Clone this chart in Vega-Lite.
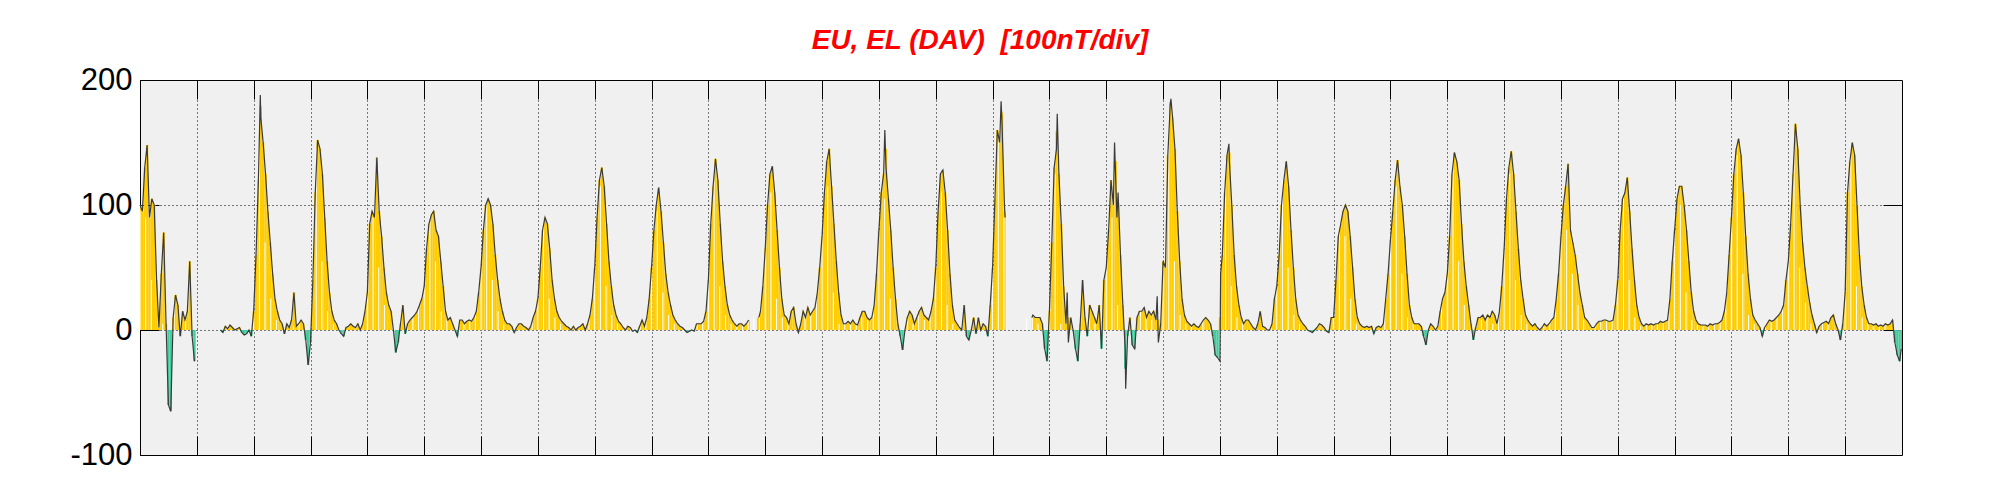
{
"$schema": "https://vega.github.io/schema/vega-lite/v6.json",
"width": 1762, "height": 375,
"autosize": {"type": "none"},
"padding": {"left": 140, "top": 80, "right": 99, "bottom": 45},
"background": "white",
"title": {"text": "EU, EL (DAV) \u00a0[100nT/div]", "font": "Liberation Sans", "fontSize": 28, "fontStyle": "italic", "fontWeight": "bold", "color": "#ff0000", "anchor": "middle", "frame": "group", "baseline": "alphabetic", "offset": 27, "dx": -41, "dy": 40},
"config": {"view": {"stroke": "#000000", "strokeWidth": 1, "fill": "#f0f0f0"}},
"data": {"values": [
{"h":0,"v":100},{"h":1,"v":95},{"h":2,"v":130},{"h":3,"v":148},{"h":4,"v":90},{"h":5,"v":105},{"h":6,"v":100},{"h":7,"v":40},{"h":8,"v":2},{"h":9,"v":45},{"h":10,"v":78},{"h":11,"v":5},{"h":12,"v":-60},{"h":13,"v":-65},{"h":14,"v":10},{"h":15,"v":28},{"h":16,"v":20},{"h":17,"v":-5},{"h":18,"v":15},{"h":19,"v":8},{"h":20,"v":15},{"h":21,"v":55},{"h":22,"v":-5},{"h":23,"v":-25},{"h":23.5,"v":null},
{"h":34,"v":0},{"h":35,"v":-2},{"h":36,"v":3},{"h":37,"v":1},{"h":38,"v":4},{"h":39,"v":2},{"h":40,"v":0},{"h":41,"v":1},{"h":42,"v":2},{"h":43,"v":-2},{"h":44,"v":-4},{"h":45,"v":-3},{"h":46,"v":0},{"h":47,"v":-5},
{"h":48,"v":15},{"h":49,"v":60},{"h":50,"v":120},{"h":50.8,"v":188},{"h":51,"v":170},{"h":52,"v":150},{"h":53,"v":125},{"h":54,"v":95},{"h":55,"v":70},{"h":56,"v":45},{"h":57,"v":25},{"h":58,"v":15},{"h":59,"v":8},{"h":60,"v":5},{"h":61,"v":-3},{"h":62,"v":5},{"h":63,"v":2},{"h":64,"v":8},{"h":65,"v":30},{"h":66,"v":3},{"h":67,"v":5},{"h":68,"v":8},{"h":69,"v":5},{"h":70,"v":-8},{"h":71,"v":-28},
{"h":72,"v":-10},{"h":73,"v":40},{"h":74,"v":110},{"h":75,"v":152},{"h":76,"v":145},{"h":77,"v":125},{"h":78,"v":90},{"h":79,"v":55},{"h":80,"v":30},{"h":81,"v":15},{"h":82,"v":8},{"h":83,"v":5},{"h":84,"v":0},{"h":85,"v":-3},{"h":86,"v":-5},{"h":87,"v":2},{"h":88,"v":3},{"h":89,"v":5},{"h":90,"v":3},{"h":91,"v":2},{"h":92,"v":5},{"h":93,"v":0},{"h":94,"v":5},{"h":95,"v":15},
{"h":96,"v":30},{"h":97,"v":85},{"h":98,"v":95},{"h":99,"v":90},{"h":100,"v":138},{"h":101,"v":95},{"h":102,"v":75},{"h":103,"v":50},{"h":104,"v":30},{"h":105,"v":20},{"h":106,"v":15},{"h":107,"v":0},{"h":108,"v":-18},{"h":109,"v":-10},{"h":110,"v":5},{"h":111,"v":20},{"h":112,"v":-3},{"h":113,"v":5},{"h":114,"v":8},{"h":115,"v":10},{"h":116,"v":12},{"h":117,"v":15},{"h":118,"v":20},{"h":119,"v":25},
{"h":120,"v":35},{"h":121,"v":65},{"h":122,"v":85},{"h":123,"v":92},{"h":124,"v":95},{"h":125,"v":80},{"h":126,"v":75},{"h":127,"v":55},{"h":128,"v":35},{"h":129,"v":15},{"h":130,"v":8},{"h":131,"v":10},{"h":132,"v":5},{"h":133,"v":0},{"h":134,"v":-5},{"h":135,"v":8},{"h":136,"v":8},{"h":137,"v":5},{"h":138,"v":7},{"h":139,"v":8},{"h":140,"v":7},{"h":141,"v":10},{"h":142,"v":15},{"h":143,"v":30},
{"h":144,"v":50},{"h":145,"v":80},{"h":146,"v":100},{"h":147,"v":105},{"h":148,"v":100},{"h":149,"v":85},{"h":150,"v":60},{"h":151,"v":40},{"h":152,"v":25},{"h":153,"v":15},{"h":154,"v":8},{"h":155,"v":5},{"h":156,"v":5},{"h":157,"v":3},{"h":158,"v":-2},{"h":159,"v":2},{"h":160,"v":5},{"h":161,"v":5},{"h":162,"v":3},{"h":163,"v":2},{"h":164,"v":0},{"h":165,"v":3},{"h":166,"v":10},{"h":167,"v":15},
{"h":168,"v":25},{"h":169,"v":50},{"h":170,"v":80},{"h":171,"v":90},{"h":172,"v":85},{"h":173,"v":65},{"h":174,"v":40},{"h":175,"v":25},{"h":176,"v":15},{"h":177,"v":10},{"h":178,"v":7},{"h":179,"v":5},{"h":180,"v":3},{"h":181,"v":2},{"h":182,"v":0},{"h":183,"v":3},{"h":184,"v":0},{"h":185,"v":2},{"h":186,"v":3},{"h":187,"v":5},{"h":188,"v":0},{"h":189,"v":5},{"h":190,"v":12},{"h":191,"v":25},
{"h":192,"v":50},{"h":193,"v":90},{"h":194,"v":120},{"h":195,"v":130},{"h":196,"v":115},{"h":197,"v":85},{"h":198,"v":55},{"h":199,"v":35},{"h":200,"v":20},{"h":201,"v":12},{"h":202,"v":7},{"h":203,"v":5},{"h":204,"v":2},{"h":205,"v":0},{"h":206,"v":3},{"h":207,"v":2},{"h":208,"v":-1},{"h":209,"v":0},{"h":210,"v":-2},{"h":211,"v":3},{"h":212,"v":8},{"h":213,"v":3},{"h":214,"v":10},{"h":215,"v":25},
{"h":216,"v":50},{"h":217,"v":80},{"h":218,"v":100},{"h":219,"v":114},{"h":220,"v":95},{"h":221,"v":70},{"h":222,"v":45},{"h":223,"v":30},{"h":224,"v":20},{"h":225,"v":12},{"h":226,"v":8},{"h":227,"v":5},{"h":228,"v":3},{"h":229,"v":2},{"h":230,"v":0},{"h":231,"v":-2},{"h":232,"v":-1},{"h":233,"v":0},{"h":234,"v":-1},{"h":235,"v":5},{"h":236,"v":5},{"h":237,"v":5},{"h":238,"v":7},{"h":239,"v":15},
{"h":240,"v":40},{"h":241,"v":85},{"h":242,"v":115},{"h":243,"v":137},{"h":244,"v":120},{"h":245,"v":85},{"h":246,"v":55},{"h":247,"v":35},{"h":248,"v":20},{"h":249,"v":12},{"h":250,"v":8},{"h":251,"v":5},{"h":252,"v":3},{"h":253,"v":5},{"h":254,"v":5},{"h":255,"v":3},{"h":256,"v":5},{"h":257,"v":8},{"h":257.6,"v":null},
{"h":261.3,"v":10},{"h":262,"v":15},{"h":263,"v":35},
{"h":264,"v":65},{"h":265,"v":100},{"h":266,"v":125},{"h":267,"v":131},{"h":268,"v":110},{"h":269,"v":80},{"h":270,"v":50},{"h":271,"v":25},{"h":272,"v":12},{"h":273,"v":10},{"h":274,"v":5},{"h":275,"v":15},{"h":276,"v":18},{"h":277,"v":5},{"h":278,"v":-2},{"h":279,"v":5},{"h":280,"v":15},{"h":281,"v":10},{"h":282,"v":18},{"h":283,"v":12},{"h":284,"v":15},{"h":285,"v":18},{"h":286,"v":30},{"h":287,"v":50},
{"h":288,"v":75},{"h":289,"v":110},{"h":290,"v":135},{"h":291,"v":145},{"h":292,"v":115},{"h":293,"v":85},{"h":294,"v":55},{"h":295,"v":30},{"h":296,"v":12},{"h":297,"v":5},{"h":298,"v":5},{"h":299,"v":7},{"h":300,"v":5},{"h":301,"v":8},{"h":302,"v":5},{"h":303,"v":4},{"h":304,"v":10},{"h":305,"v":15},{"h":306,"v":15},{"h":307,"v":10},{"h":308,"v":8},{"h":309,"v":10},{"h":310,"v":20},{"h":311,"v":45},
{"h":312,"v":80},{"h":313,"v":110},{"h":314,"v":125},{"h":314.5,"v":160},{"h":315,"v":130},{"h":316,"v":105},{"h":317,"v":80},{"h":318,"v":50},{"h":319,"v":25},{"h":320,"v":5},{"h":321,"v":-5},{"h":322,"v":-16},{"h":323,"v":0},{"h":324,"v":10},{"h":325,"v":15},{"h":326,"v":12},{"h":327,"v":5},{"h":328,"v":10},{"h":329,"v":15},{"h":330,"v":18},{"h":331,"v":12},{"h":332,"v":10},{"h":333,"v":8},{"h":334,"v":15},{"h":335,"v":25},
{"h":336,"v":50},{"h":337,"v":95},{"h":338,"v":125},{"h":339,"v":128},{"h":340,"v":110},{"h":341,"v":80},{"h":342,"v":45},{"h":343,"v":20},{"h":344,"v":8},{"h":345,"v":5},{"h":346,"v":2},{"h":347,"v":0},{"h":348,"v":20},{"h":349,"v":-5},{"h":350,"v":-8},{"h":351,"v":0},{"h":352,"v":10},{"h":353,"v":-3},{"h":354,"v":10},{"h":355,"v":0},{"h":356,"v":5},{"h":357,"v":3},{"h":358,"v":-5},{"h":359,"v":20},
{"h":360,"v":50},{"h":361,"v":105},{"h":362,"v":160},{"h":363,"v":150},{"h":363.6,"v":183},{"h":364,"v":165},{"h":365,"v":100},{"h":365.3,"v":90},{"h":365.6,"v":null},
{"h":376.6,"v":10},{"h":377,"v":12},{"h":378,"v":10},{"h":379,"v":10},{"h":380,"v":10},{"h":381,"v":5},{"h":382,"v":-15},{"h":383,"v":-25},
{"h":384,"v":15},{"h":385,"v":70},{"h":386,"v":130},{"h":387,"v":145},{"h":387.3,"v":173},{"h":388,"v":125},{"h":389,"v":85},{"h":390,"v":35},{"h":391,"v":5},{"h":391.5,"v":30},{"h":392,"v":-10},{"h":393,"v":10},{"h":394,"v":0},{"h":395,"v":-15},{"h":396,"v":-25},{"h":397,"v":5},{"h":398,"v":40},{"h":399,"v":10},{"h":400,"v":-5},{"h":401,"v":20},{"h":402,"v":15},{"h":403,"v":10},{"h":404,"v":5},{"h":405,"v":20},{"h":406,"v":-15},{"h":407,"v":40},
{"h":408,"v":50},{"h":409,"v":80},{"h":410,"v":120},{"h":411,"v":100},{"h":411.5,"v":150},{"h":412,"v":120},{"h":412.5,"v":90},{"h":413,"v":110},{"h":414,"v":60},{"h":415,"v":20},{"h":416,"v":-15},{"h":416.2,"v":-47},{"h":417,"v":-5},{"h":418,"v":10},{"h":419,"v":-12},{"h":420,"v":-15},{"h":421,"v":10},{"h":422,"v":15},{"h":423,"v":15},{"h":424,"v":18},{"h":425,"v":10},{"h":426,"v":15},{"h":427,"v":12},{"h":428,"v":15},{"h":429,"v":8},{"h":429.5,"v":27},{"h":430,"v":-10},{"h":431,"v":5},
{"h":432,"v":55},{"h":433,"v":50},{"h":434,"v":140},{"h":435,"v":180},{"h":435.3,"v":185},{"h":436,"v":170},{"h":437,"v":145},{"h":438,"v":95},{"h":439,"v":55},{"h":440,"v":25},{"h":441,"v":12},{"h":442,"v":7},{"h":443,"v":5},{"h":444,"v":3},{"h":445,"v":5},{"h":446,"v":3},{"h":447,"v":2},{"h":448,"v":5},{"h":449,"v":8},{"h":450,"v":10},{"h":451,"v":8},{"h":452,"v":5},{"h":453,"v":-5},{"h":454,"v":-20},{"h":455,"v":-22},
{"h":456,"v":-25},{"h":456.3,"v":45},{"h":457,"v":60},{"h":458,"v":110},{"h":459,"v":140},{"h":459.8,"v":149},{"h":460,"v":135},{"h":461,"v":100},{"h":462,"v":60},{"h":463,"v":35},{"h":464,"v":20},{"h":465,"v":10},{"h":466,"v":5},{"h":467,"v":8},{"h":468,"v":8},{"h":469,"v":5},{"h":470,"v":2},{"h":471,"v":0},{"h":472,"v":5},{"h":473,"v":15},{"h":474,"v":3},{"h":475,"v":2},{"h":476,"v":0},{"h":477,"v":0},{"h":478,"v":5},{"h":479,"v":25},
{"h":480,"v":35},{"h":481,"v":60},{"h":482,"v":100},{"h":483,"v":120},{"h":484,"v":135},{"h":485,"v":115},{"h":486,"v":80},{"h":487,"v":50},{"h":488,"v":25},{"h":489,"v":12},{"h":490,"v":8},{"h":491,"v":5},{"h":492,"v":3},{"h":493,"v":0},{"h":494,"v":-1},{"h":495,"v":-2},{"h":496,"v":0},{"h":497,"v":2},{"h":498,"v":5},{"h":499,"v":4},{"h":500,"v":2},{"h":501,"v":-1},{"h":502,"v":-2},{"h":503,"v":10},
{"h":504,"v":10},{"h":505,"v":40},{"h":506,"v":75},{"h":507,"v":85},{"h":508,"v":95},{"h":509,"v":100},{"h":510,"v":95},{"h":511,"v":75},{"h":512,"v":50},{"h":513,"v":25},{"h":514,"v":10},{"h":515,"v":5},{"h":516,"v":3},{"h":517,"v":2},{"h":518,"v":3},{"h":519,"v":2},{"h":520,"v":3},{"h":521,"v":-3},{"h":522,"v":2},{"h":523,"v":3},{"h":524,"v":2},{"h":525,"v":5},{"h":526,"v":25},{"h":527,"v":45},
{"h":528,"v":72},{"h":529,"v":95},{"h":530,"v":120},{"h":531,"v":136},{"h":532,"v":115},{"h":533,"v":100},{"h":534,"v":75},{"h":535,"v":45},{"h":536,"v":20},{"h":537,"v":10},{"h":538,"v":5},{"h":539,"v":5},{"h":540,"v":5},{"h":541,"v":3},{"h":542,"v":-5},{"h":543,"v":-12},{"h":544,"v":0},{"h":545,"v":5},{"h":546,"v":3},{"h":547,"v":0},{"h":548,"v":3},{"h":549,"v":15},{"h":550,"v":25},{"h":551,"v":30},
{"h":552,"v":45},{"h":553,"v":75},{"h":554,"v":125},{"h":555,"v":142},{"h":556,"v":135},{"h":557,"v":120},{"h":558,"v":85},{"h":559,"v":55},{"h":560,"v":35},{"h":561,"v":20},{"h":562,"v":5},{"h":563,"v":-8},{"h":564,"v":2},{"h":565,"v":10},{"h":566,"v":10},{"h":567,"v":12},{"h":568,"v":8},{"h":569,"v":12},{"h":570,"v":10},{"h":571,"v":15},{"h":572,"v":12},{"h":573,"v":5},{"h":574,"v":15},{"h":575,"v":35},
{"h":576,"v":65},{"h":577,"v":105},{"h":578,"v":130},{"h":579,"v":143},{"h":580,"v":125},{"h":581,"v":95},{"h":582,"v":65},{"h":583,"v":40},{"h":584,"v":25},{"h":585,"v":12},{"h":586,"v":8},{"h":587,"v":5},{"h":588,"v":3},{"h":589,"v":5},{"h":590,"v":2},{"h":591,"v":0},{"h":592,"v":2},{"h":593,"v":5},{"h":594,"v":3},{"h":595,"v":5},{"h":596,"v":8},{"h":597,"v":10},{"h":598,"v":25},{"h":599,"v":45},
{"h":600,"v":75},{"h":601,"v":100},{"h":602,"v":115},{"h":603,"v":133},{"h":604,"v":80},{"h":605,"v":70},{"h":606,"v":60},{"h":607,"v":45},{"h":608,"v":30},{"h":609,"v":20},{"h":610,"v":10},{"h":611,"v":8},{"h":612,"v":5},{"h":613,"v":2},{"h":614,"v":2},{"h":615,"v":5},{"h":616,"v":7},{"h":617,"v":7},{"h":618,"v":8},{"h":619,"v":8},{"h":620,"v":7},{"h":621,"v":7},{"h":622,"v":8},{"h":623,"v":20},
{"h":624,"v":40},{"h":625,"v":80},{"h":626,"v":105},{"h":627,"v":110},{"h":628,"v":122},{"h":629,"v":95},{"h":630,"v":65},{"h":631,"v":40},{"h":632,"v":20},{"h":633,"v":10},{"h":634,"v":5},{"h":635,"v":3},{"h":636,"v":5},{"h":637,"v":4},{"h":638,"v":5},{"h":639,"v":4},{"h":640,"v":5},{"h":641,"v":5},{"h":642,"v":7},{"h":643,"v":6},{"h":644,"v":7},{"h":645,"v":8},{"h":646,"v":25},{"h":647,"v":55},
{"h":648,"v":80},{"h":649,"v":105},{"h":650,"v":115},{"h":651,"v":115},{"h":652,"v":100},{"h":653,"v":80},{"h":654,"v":55},{"h":655,"v":30},{"h":656,"v":15},{"h":657,"v":8},{"h":658,"v":5},{"h":659,"v":4},{"h":660,"v":4},{"h":661,"v":4},{"h":662,"v":3},{"h":663,"v":5},{"h":664,"v":4},{"h":665,"v":5},{"h":666,"v":5},{"h":667,"v":6},{"h":668,"v":8},{"h":669,"v":15},{"h":670,"v":30},{"h":671,"v":60},
{"h":672,"v":90},{"h":673,"v":125},{"h":674,"v":145},{"h":675,"v":153},{"h":676,"v":140},{"h":677,"v":110},{"h":678,"v":75},{"h":679,"v":45},{"h":680,"v":25},{"h":681,"v":12},{"h":682,"v":8},{"h":683,"v":5},{"h":684,"v":2},{"h":685,"v":-5},{"h":686,"v":2},{"h":687,"v":5},{"h":688,"v":8},{"h":689,"v":7},{"h":690,"v":8},{"h":691,"v":10},{"h":692,"v":12},{"h":693,"v":15},{"h":694,"v":20},{"h":695,"v":40},
{"h":696,"v":55},{"h":697,"v":85},{"h":698,"v":125},{"h":699,"v":165},{"h":700,"v":145},{"h":701,"v":100},{"h":702,"v":70},{"h":703,"v":50},{"h":704,"v":35},{"h":705,"v":22},{"h":706,"v":12},{"h":707,"v":5},{"h":708,"v":-2},{"h":709,"v":3},{"h":710,"v":5},{"h":711,"v":6},{"h":712,"v":7},{"h":713,"v":5},{"h":714,"v":10},{"h":715,"v":12},{"h":716,"v":5},{"h":717,"v":0},{"h":718,"v":-8},{"h":719,"v":5},
{"h":720,"v":30},{"h":721,"v":110},{"h":722,"v":135},{"h":723,"v":150},{"h":724,"v":140},{"h":725,"v":100},{"h":726,"v":60},{"h":727,"v":35},{"h":728,"v":20},{"h":729,"v":10},{"h":730,"v":5},{"h":731,"v":5},{"h":732,"v":4},{"h":733,"v":5},{"h":734,"v":3},{"h":735,"v":4},{"h":736,"v":3},{"h":737,"v":5},{"h":738,"v":4},{"h":739,"v":5},{"h":740,"v":8},{"h":741,"v":-10},{"h":742,"v":-20},{"h":743,"v":-25},{"h":743.7,"v":-15}
]},
"resolve": {"axis": {"x": "independent", "y": "independent"}},
"layer": [
{
"transform": [
{"bin": {"step": 1, "extent": [-0.5, 744.5], "nice": false}, "field": "h", "as": ["b0", "b1"]},
{"aggregate": [{"op": "mean", "field": "v", "as": "m"}], "groupby": ["b0", "b1"]}
],
"mark": {"type": "rect", "clip": true},
"encoding": {
"x": {"field": "b0", "type": "quantitative", "scale": {"domain": [0, 744], "nice": false, "zero": false},
"axis": {"orient": "bottom", "values": [24,48,72,96,120,144,168,192,216,240,264,288,312,336,360,384,408,432,456,480,504,528,552,576,600,624,648,672,696,720], "labels": false, "title": null, "domain": false, "ticks": true, "tickSize": -19, "tickColor": "#000000", "tickWidth": 1, "grid": true, "gridColor": "#000000", "gridDash": [1, 3], "gridOpacity": 1, "gridWidth": 1}},
"x2": {"field": "b1"},
"y": {"field": "m", "type": "quantitative", "scale": {"domain": [-100, 200], "nice": false},
"axis": {"orient": "left", "values": [-100, 0, 100, 200], "title": null, "domain": false, "ticks": true, "tickSize": -19, "tickColor": "#000000", "labelFont": "Liberation Sans", "labelFontSize": 31, "labelColor": "#000000", "labelPadding": 27, "labelFlush": false, "labelBaseline": "middle", "labelExpr": "'' + datum.value", "grid": true, "gridColor": "#000000", "gridDash": [1, 3], "gridOpacity": 1, "gridWidth": 1}},
"y2": {"datum": 0},
"color": {"condition": {"test": "datum.m < 0", "value": "#44cc9e"}, "value": "#ffcc00"}
}
},
{
"transform": [
{"bin": {"step": 2.4, "extent": [0, 744], "nice": false}, "field": "h", "as": ["c0", "c1"]},
{"aggregate": [{"op": "min", "field": "v", "as": "mn"}], "groupby": ["c0"]},
{"filter": "datum.mn > 2"}
],
"mark": {"type": "rule", "color": "#ffffff", "strokeWidth": 1},
"encoding": {
"x": {"field": "c0", "type": "quantitative", "axis": null},
"y": {"field": "mn", "type": "quantitative", "axis": null},
"y2": {"datum": 0}
}
},
{
"mark": {"type": "line", "color": "#3a3a3a", "strokeWidth": 1.2, "invalid": "break-paths-filter-domains"},
"encoding": {
"x": {"field": "h", "type": "quantitative", "scale": {"domain": [0, 744], "nice": false, "zero": false},
"axis": {"orient": "top", "values": [24,48,72,96,120,144,168,192,216,240,264,288,312,336,360,384,408,432,456,480,504,528,552,576,600,624,648,672,696,720], "labels": false, "title": null, "domain": false, "ticks": true, "tickSize": -19, "tickColor": "#000000", "grid": false}},
"y": {"field": "v", "type": "quantitative", "scale": {"domain": [-100, 200], "nice": false},
"axis": {"orient": "right", "values": [0, 100], "labels": false, "title": null, "domain": false, "ticks": true, "tickSize": -19, "tickColor": "#000000", "grid": false}}
}
}
]
}
